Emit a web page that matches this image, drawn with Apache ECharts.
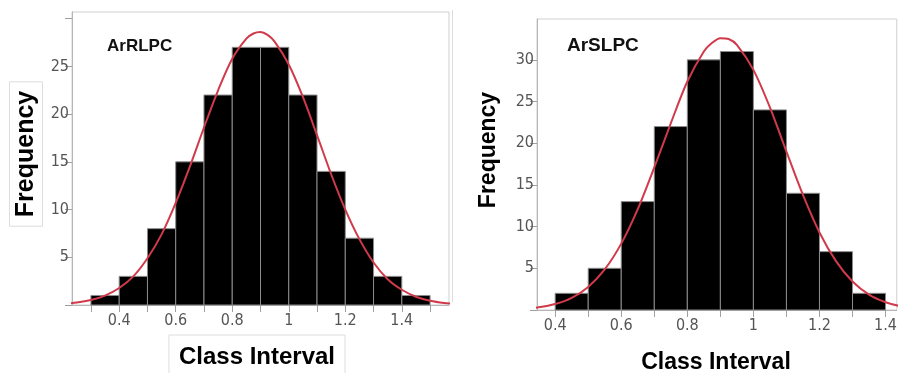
<!DOCTYPE html>
<html>
<head>
<meta charset="utf-8">
<script src="https://cdn.jsdelivr.net/npm/echarts@6/dist/echarts.min.js"></script>
<style>
  html, body { margin: 0; padding: 0; background: #fff; }
  #chart { width: 900px; height: 373px; }
</style>
</head>
<body>
<div id="chart"></div>
<script>
// bin edges (class interval) and frequencies
var leftEdges = [0.3, 0.4, 0.5, 0.6, 0.7, 0.8, 0.9, 1.0, 1.1, 1.2, 1.3, 1.4, 1.5];
var leftCounts = [1, 3, 8, 15, 22, 27, 27, 22, 14, 7, 3, 1];
var rightEdges = [0.4, 0.5, 0.6, 0.7, 0.8, 0.9, 1.0, 1.1, 1.2, 1.3, 1.4];
var rightCounts = [2, 5, 13, 22, 30, 31, 24, 14, 7, 2];

// fitted normal curve
var leftCurveX = [0.2, 0.25, 0.3, 0.35, 0.4, 0.45, 0.5, 0.55, 0.6, 0.65, 0.7, 0.75, 0.8, 0.85, 0.875, 0.9,
    0.925, 0.95, 1.0, 1.05, 1.1, 1.15, 1.2, 1.25, 1.3, 1.35, 1.4, 1.45, 1.5, 1.55, 1.6];
var leftCurveY = [0.11, 0.25, 0.52, 0.99, 1.78, 3.0, 4.9, 7.4, 10.7, 14.5, 18.6, 22.5, 25.8, 27.9, 28.45, 28.6,
    28.3, 27.6, 25.2, 21.8, 17.8, 13.7, 10.0, 6.9, 4.45, 2.7, 1.6, 0.87, 0.45, 0.22, 0.1];
var rightCurveX = [0.3, 0.35, 0.4, 0.45, 0.5, 0.55, 0.6, 0.65, 0.7, 0.75, 0.8, 0.85, 0.875, 0.9, 0.925, 0.95,
    1.0, 1.05, 1.1, 1.15, 1.2, 1.25, 1.3, 1.35, 1.4, 1.45, 1.5];
var rightCurveY = [0.13, 0.32, 0.71, 1.45, 2.76, 4.86, 7.96, 12.1, 17.1, 22.4, 27.4, 31.0, 32.05, 32.6, 32.5, 31.8,
    28.8, 24.3, 19.0, 13.8, 9.3, 5.86, 3.41, 1.84, 0.93, 0.43, 0.19];

// axis ticks / labels
var leftXTicks = [0.3, 0.4, 0.5, 0.6, 0.7, 0.8, 0.9, 1.0, 1.1, 1.2, 1.3, 1.4, 1.5];
var leftXLabels = [0.4, 0.6, 0.8, 1.0, 1.2, 1.4];
var leftYTicks = [0, 5, 10, 15, 20, 25, 30];
var leftYLabels = [5, 10, 15, 20, 25];
var rightXTicks = [0.4, 0.5, 0.6, 0.7, 0.8, 0.9, 1.0, 1.1, 1.2, 1.3, 1.4];
var rightXLabels = [0.4, 0.6, 0.8, 1.0, 1.2, 1.4];
var rightYTicks = [0, 5, 10, 15, 20, 25, 30];
var rightYLabels = [5, 10, 15, 20, 25, 30];

function bins(edges, counts) {
    var out = [];
    for (var i = 0; i < counts.length; i++) {
        out.push([edges[i], edges[i + 1], counts[i]]);
    }
    return out;
}
function pairs(xs, ys) {
    return xs.map(function (x, i) { return [x, ys[i]]; });
}

var tickFont = {
    color: '#555',
    fontSize: 16,
    fontFamily: '"Liberation Sans Narrow", "DejaVu Sans Condensed", "Liberation Sans", sans-serif'
};
var greyLine = { lineStyle: { color: '#b5b5b5', width: 1 } };

function xAxis(grid, min, max, ticks, labels) {
    return {
        type: 'value', gridIndex: grid, min: min, max: max,
        splitLine: { show: false },
        axisLine: greyLine,
        axisTick: { show: true, length: 7, lineStyle: { color: '#a0a0a0' }, customValues: ticks },
        axisLabel: Object.assign({ margin: 8, customValues: labels }, tickFont)
    };
}
function yAxis(grid, max, ticks, labels) {
    return {
        type: 'value', gridIndex: grid, min: 0, max: max,
        splitLine: { show: false },
        axisLine: { show: true, lineStyle: { color: '#b5b5b5', width: 1 } },
        axisTick: { show: true, length: 7, lineStyle: { color: '#a0a0a0' }, customValues: ticks },
        axisLabel: Object.assign({ margin: 3, customValues: labels }, tickFont)
    };
}

function renderBar(params, api) {
    var p0 = api.coord([api.value(0), api.value(2)]);
    var p1 = api.coord([api.value(1), 0]);
    return {
        type: 'rect',
        shape: { x: p0[0], y: p0[1], width: p1[0] - p0[0], height: p1[1] - p0[1] },
        style: { fill: '#000', stroke: '#8c8c8c', lineWidth: 1 }
    };
}

var chart = echarts.init(document.getElementById('chart'));
var option = {
    backgroundColor: '#fff',
    animation: false,
    grid: [
        { left: 72, top: 12, width: 377, height: 293, show: true, borderColor: '#cfcfcf', borderWidth: 1 },
        { left: 537, top: 19, width: 363, height: 291, show: true, borderColor: '#cfcfcf', borderWidth: 1 }
    ],
    xAxis: [
        xAxis(0, 0.233, 1.567, leftXTicks, leftXLabels),
        xAxis(1, 0.345, 1.434, rightXTicks, rightXLabels)
    ],
    yAxis: [
        yAxis(0, 30.7, leftYTicks, leftYLabels),
        yAxis(1, 34.9, rightYTicks, rightYLabels)
    ],
    series: [
        {
            type: 'custom', xAxisIndex: 0, yAxisIndex: 0,
            renderItem: renderBar, data: bins(leftEdges, leftCounts), z: 2
        },
        {
            type: 'line', xAxisIndex: 0, yAxisIndex: 0, smooth: 0.3, showSymbol: false, clip: true,
            lineStyle: { color: '#d03a4a', width: 2 }, data: pairs(leftCurveX, leftCurveY), z: 3
        },
        {
            type: 'custom', xAxisIndex: 1, yAxisIndex: 1,
            renderItem: renderBar, data: bins(rightEdges, rightCounts), z: 2
        },
        {
            type: 'line', xAxisIndex: 1, yAxisIndex: 1, smooth: 0.3, showSymbol: false, clip: true,
            lineStyle: { color: '#d03a4a', width: 2 }, data: pairs(rightCurveX, rightCurveY), z: 3
        }
    ],
    graphic: [
        // panel labels
        { type: 'text', x: 107, y: 46, z: 10, style: { text: 'ArRLPC', fill: '#111', font: 'bold 17px "Liberation Sans", Arial, sans-serif', verticalAlign: 'middle' } },
        { type: 'text', x: 567, y: 46, z: 10, style: { text: 'ArSLPC', fill: '#111', font: 'bold 19px "Liberation Sans", Arial, sans-serif', verticalAlign: 'middle' } },
        // axis titles
        { type: 'text', x: 26, y: 154, rotation: Math.PI / 2, z: 10,
          style: { text: 'Frequency', fill: '#000', font: 'bold 25px "Liberation Sans", Arial, sans-serif', align: 'center', verticalAlign: 'middle',
                   borderColor: '#dddddd', borderWidth: 1, padding: [4, 9, 4, 9] } },
        { type: 'text', x: 489, y: 150, rotation: Math.PI / 2, z: 10,
          style: { text: 'Frequency', fill: '#000', font: 'bold 23px "Liberation Sans", Arial, sans-serif', align: 'center', verticalAlign: 'middle' } },
        { type: 'text', x: 257, y: 357, z: 10,
          style: { text: 'Class Interval', fill: '#000', font: 'bold 24px "Liberation Sans", Arial, sans-serif', align: 'center', verticalAlign: 'middle',
                   borderColor: '#dddddd', borderWidth: 1, padding: [6, 10, 14, 10] } },
        { type: 'text', x: 716, y: 363, z: 10,
          style: { text: 'Class Interval', fill: '#000', font: 'bold 23px "Liberation Sans", Arial, sans-serif', align: 'center', verticalAlign: 'middle' } },
        // edge of the right panel
        { type: 'line', shape: { x1: 452.5, y1: 10, x2: 452.5, y2: 302 }, style: { stroke: '#dddddd', lineWidth: 1 } }
    ]
};
chart.setOption(option);
</script>
</body>
</html>
